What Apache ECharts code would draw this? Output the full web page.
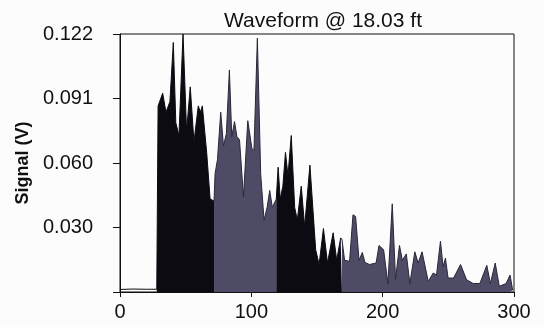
<!DOCTYPE html>
<html>
<head>
<meta charset="utf-8">
<script src="https://cdn.jsdelivr.net/npm/echarts@6/dist/echarts.min.js"></script>
<style>
  html, body { margin: 0; padding: 0; background: #fcfcfc; }
  #chart { width: 544px; height: 327px; }
</style>
</head>
<body>
<div id="chart"></div>
<script>
var titleText = 'Waveform @ 18.03 ft';
var yName = 'Signal (V)';
var yTickLabels = ['', '0.030', '0.060', '0.091', '0.122'];

// quiet line before the first arrival
var lead = [[0, 0.0012], [10, 0.0014], [20, 0.0013], [28, 0.0013]];

// first dark block
var darkA = [[28, 0.0013], [29, 0.088], [32.5, 0.094], [35, 0.085], [38, 0.09], [40.6, 0.118],
  [42.5, 0.08], [44.9, 0.074], [48, 0.122], [50.7, 0.076], [53.5, 0.097], [56.3, 0.071],
  [59.6, 0.088], [61.2, 0.085], [62.7, 0.088], [66, 0.066], [68.6, 0.044], [71.6, 0.043]];

// first grey block
var greyA = [[71.6, 0.043], [72.4, 0.056], [74.2, 0.0625], [76.7, 0.085], [78.8, 0.069],
  [81, 0.075], [83.3, 0.105], [85.1, 0.0735], [87.2, 0.0806], [89, 0.0735], [91, 0.072],
  [94, 0.045], [97.3, 0.081], [100.4, 0.068], [102, 0.067], [104.6, 0.12], [107.1, 0.056],
  [109.7, 0.034], [112, 0.04], [114, 0.048], [116, 0.040], [119, 0.044]];

// second dark block
var darkB = [[119, 0.044], [120.4, 0.059], [122, 0.044], [124, 0.05], [126, 0.066], [127.9, 0.055],
  [130.4, 0.074], [133, 0.040], [135, 0.034], [138, 0.050], [140.6, 0.031], [144.6, 0.060],
  [149, 0.020], [151.6, 0.013], [154.9, 0.030], [158, 0.0137], [162.3, 0.028], [165, 0.015],
  [168, 0.0255], [169, 0.025]];

// long grey tail
var greyB = [[169, 0.025], [171, 0.015], [174.8, 0.0145], [177.4, 0.0365], [179.4, 0.0357],
  [182, 0.015], [184.5, 0.0187], [186.5, 0.014], [190, 0.013], [195, 0.0137], [197.2, 0.022],
  [200.7, 0.020], [204, 0.004], [207.3, 0.0417], [209.8, 0.006], [212.8, 0.022], [215, 0.015],
  [218, 0.018], [220.7, 0.004], [224.5, 0.019], [227, 0.0137], [230, 0.019], [234.7, 0.005],
  [238.5, 0.009], [241, 0.008], [244, 0.024], [246, 0.012], [247.8, 0.016], [249.8, 0.0066],
  [254, 0.0066], [259.3, 0.013], [263.9, 0.0058], [269, 0.004], [274, 0.004], [279.3, 0.0126],
  [282, 0.004], [285.7, 0.0137], [288.8, 0.0027], [294, 0.004], [297, 0.008], [299, 0.0008]];

var dark = '#0c0b12';
var grey = '#4e4b66';

function block(data, fill, edge) {
  return {
    type: 'line',
    data: data,
    symbol: 'none',
    silent: true,
    lineStyle: { color: edge, width: 1 },
    areaStyle: { color: fill, opacity: 1 },
    z: 2
  };
}

var chart = echarts.init(document.getElementById('chart'));
chart.setOption({
  animation: false,
  backgroundColor: '#fcfcfc',
  title: {
    text: titleText,
    left: 318,
    top: 6,
    textAlign: 'center',
    textStyle: { fontFamily: 'Liberation Sans', fontSize: 21, fontWeight: 'normal', color: '#111' }
  },
  grid: {
    left: 120, right: 30, top: 34, bottom: 35,
    show: true, borderColor: '#111', borderWidth: 1, backgroundColor: 'transparent'
  },
  xAxis: {
    type: 'value',
    min: 0,
    max: 300,
    interval: 100,
    axisLine: { show: true, lineStyle: { color: '#111', width: 1 } },
    axisTick: { show: true, inside: false, length: 5, lineStyle: { color: '#111' } },
    axisLabel: { color: '#111', fontFamily: 'Liberation Sans', fontSize: 20, margin: 10 },
    splitLine: { show: false }
  },
  yAxis: {
    type: 'value',
    min: 0,
    max: 0.122,
    interval: 0.0305,
    name: yName,
    nameLocation: 'middle',
    nameGap: 85,
    nameTextStyle: { color: '#111', fontFamily: 'Liberation Sans', fontSize: 18, fontWeight: 'bold' },
    axisLine: { show: true, lineStyle: { color: '#111', width: 1 } },
    axisTick: { show: true, inside: false, length: 7, lineStyle: { color: '#111' } },
    axisLabel: {
      color: '#111', fontFamily: 'Liberation Sans', fontSize: 20, margin: 27,
      formatter: function (v, i) { return yTickLabels[i] || ''; }
    },
    splitLine: { show: false }
  },
  series: [
    block(lead, 'rgba(0,0,0,0)', dark),
    block(darkA, dark, dark),
    block(greyA, grey, '#2a2838'),
    block(darkB, dark, dark),
    block(greyB, grey, '#2a2838')
  ]
});
</script>
</body>
</html>
